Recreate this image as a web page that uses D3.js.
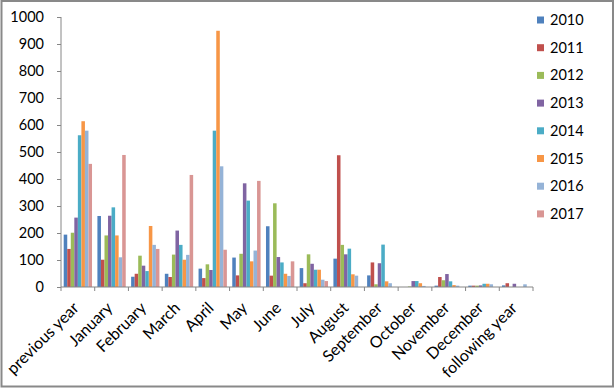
<!DOCTYPE html>
<html>
<head>
<meta charset="utf-8">
<script src="https://cdn.jsdelivr.net/npm/d3@7"></script>
<style>
  body { margin: 0; background: #fff; }
  svg text { font-family: Lato, "Open Sans", sans-serif; fill: #000; }
</style>
</head>
<body>
<div id="chart"></div>
<script>
'use strict';
var categories = ['previous year', 'January', 'February', 'March', 'April', 'May', 'June',
  'July', 'August', 'September', 'October', 'November', 'December', 'following year'];
var years = ['2010', '2011', '2012', '2013', '2014', '2015', '2016', '2017'];
var yTicks = [0, 100, 200, 300, 400, 500, 600, 700, 800, 900, 1000];

var v2010 = [194, 263, 38, 49, 68, 109, 225, 70, 105, 43, 0, 5, 5, 6];
var v2011 = [141, 101, 49, 37, 33, 43, 42, 14, 488, 91, 0, 37, 5, 14];
var v2012 = [201, 191, 116, 120, 84, 123, 310, 121, 156, 10, 2, 25, 5, 0];
var v2013 = [257, 264, 79, 209, 63, 384, 111, 86, 121, 88, 22, 48, 6, 12];
var v2014 = [562, 295, 59, 156, 579, 320, 91, 64, 142, 157, 22, 21, 12, 0];
var v2015 = [614, 191, 226, 101, 949, 95, 49, 64, 47, 21, 14, 7, 12, 0];
var v2016 = [579, 110, 156, 119, 447, 135, 41, 27, 42, 14, 4, 5, 10, 10];
var v2017 = [456, 489, 141, 415, 138, 393, 95, 22, 0, 0, 0, 0, 0, 0];
var series = [v2010, v2011, v2012, v2013, v2014, v2015, v2016, v2017];
var colors = ['#4F81BD', '#C0504D', '#9BBB59', '#8064A2', '#4BACC6', '#F79646', '#95B3D7', '#D99694'];

(function() {
var width = 615, height = 390;
var plotLeft = 61, plotRight = 533, plotTop = 17, plotBottom = 287;

var svg = d3.select('#chart').append('svg')
    .attr('width', width)
    .attr('height', height);

var x0 = d3.scaleBand().domain(categories).range([plotLeft, plotRight]);
var gap = x0.bandwidth() * 0.08;
var x1 = d3.scaleBand().domain(years).range([gap, x0.bandwidth() - gap]);
var y = d3.scaleLinear().domain([0, 1000]).range([plotBottom, plotTop]);
var color = d3.scaleOrdinal().domain(years).range(colors);

// bars
var groups = svg.append('g').selectAll('g')
    .data(categories)
    .join('g')
    .attr('transform', function(c) { return 'translate(' + x0(c) + ',0)'; });

groups.selectAll('rect')
    .data(function(c, i) {
      return years.map(function(yr, j) { return {year: yr, value: series[j][i]}; });
    })
    .join('rect')
    .attr('x', function(d) { return x1(d.year); })
    .attr('width', x1.bandwidth())
    .attr('y', function(d) { return y(d.value); })
    .attr('height', function(d) { return plotBottom - y(d.value); })
    .attr('fill', function(d) { return color(d.year); });

// y axis
var yAxis = svg.append('g')
    .attr('transform', 'translate(' + plotLeft + ',0)')
    .call(d3.axisLeft(y).tickValues(yTicks).tickFormat(d3.format('d')).tickSize(4).tickPadding(13));
yAxis.selectAll('line, path').attr('stroke', '#868686');
yAxis.select('.domain').attr('d', 'M0,' + plotTop + 'V' + plotBottom);
yAxis.selectAll('text').style('font-size', '14.5px');

// x axis
var xAxis = svg.append('g')
    .attr('transform', 'translate(0,' + plotBottom + ')');
xAxis.append('line')
    .attr('x1', plotLeft).attr('x2', plotRight)
    .attr('stroke', '#868686');
xAxis.selectAll('line.tick')
    .data(d3.range(categories.length + 1))
    .join('line')
    .attr('class', 'tick')
    .attr('x1', function(i) { return plotLeft + i * x0.step(); })
    .attr('x2', function(i) { return plotLeft + i * x0.step(); })
    .attr('y2', 4)
    .attr('stroke', '#868686');
xAxis.selectAll('text')
    .data(categories)
    .join('text')
    .attr('transform', function(c) {
      return 'translate(' + (x0(c) + x0.bandwidth() / 2 + 2) + ',22) rotate(-45)';
    })
    .attr('text-anchor', 'end')
    .style('font-size', '16px')
    .text(function(c) { return c; });

// legend
var legend = svg.append('g').selectAll('g')
    .data(years)
    .join('g')
    .attr('transform', function(d, i) { return 'translate(537,' + (20 + i * 27.7) + ')'; });
legend.append('rect')
    .attr('x', 0).attr('y', -3.5)
    .attr('width', 7).attr('height', 7)
    .attr('fill', function(d) { return color(d); });
legend.append('text')
    .attr('x', 13).attr('dy', '0.35em')
    .style('font-size', '14.5px')
    .text(function(d) { return d; });

// frame
svg.append('rect')
    .attr('x', 1.5).attr('y', 1)
    .attr('width', 611.5).attr('height', 385.5)
    .attr('fill', 'none')
    .attr('stroke', '#898989')
    .attr('stroke-width', 2);
})();
</script>
</body>
</html>
